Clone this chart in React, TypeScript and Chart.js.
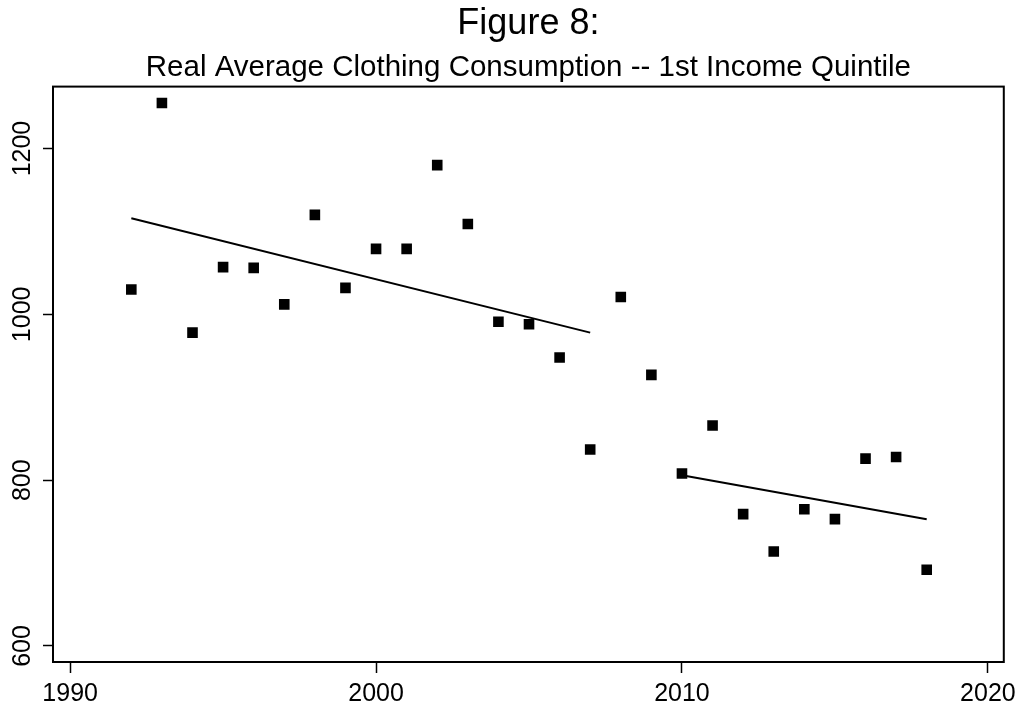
import React, { useEffect, useRef } from "react";
import { Chart, registerables } from "chart.js";

Chart.register(...registerables);

const years = [1992, 1993, 1994, 1995, 1996, 1997, 1998, 1999, 2000, 2001, 2002, 2003, 2004, 2005, 2006, 2007, 2008, 2009, 2010, 2011, 2012, 2013, 2014, 2015, 2016, 2017, 2018];
const consumption = [1030, 1255, 978, 1057, 1056, 1012, 1120, 1032, 1079, 1079, 1180, 1109, 991, 988, 948, 837, 1021, 927, 808, 866, 759, 714, 765, 753, 826, 828, 692];

const fitYears1 = [1992, 2007];
const fitValues1 = [1116, 978];
const fitYears2 = [2010, 2018];
const fitValues2 = [806, 753];

const xTicks = [1990, 2000, 2010, 2020];
const yTicks = [600, 800, 1000, 1200];

const titleText = "Figure 8:";
const subtitleText = "Real Average Clothing Consumption -- 1st Income Quintile";

const FONT = "'Liberation Sans', Arial, Helvetica, sans-serif";

const boxPlugin = {
  id: "boxPlugin",
  afterDraw(chart: any) {
    const { ctx, chartArea } = chart;
    ctx.save();
    ctx.strokeStyle = "#000";
    ctx.lineWidth = 2;
    ctx.strokeRect(chartArea.left, chartArea.top, chartArea.right - chartArea.left, chartArea.bottom - chartArea.top);
    ctx.restore();
  },
};

export default function App() {
  const ref = useRef<HTMLCanvasElement>(null);
  useEffect(() => {
    document.body.style.margin = "0";
    const pts = years.map((x, i) => ({ x, y: consumption[i] }));
    const l1 = fitYears1.map((x, i) => ({ x, y: fitValues1[i] }));
    const l2 = fitYears2.map((x, i) => ({ x, y: fitValues2[i] }));
    const chart = new Chart(ref.current!, {
      type: "scatter",
      data: {
        datasets: [
          { data: pts, pointStyle: "rect", pointRadius: 7.5, pointBackgroundColor: "#000", pointBorderWidth: 0, showLine: false },
          { data: l1, showLine: true, pointRadius: 0, borderColor: "#000", borderWidth: 2 },
          { data: l2, showLine: true, pointRadius: 0, borderColor: "#000", borderWidth: 2 },
        ],
      },
      options: {
        animation: false,
        responsive: false,
        layout: { padding: { right: 18 } },
        plugins: {
          legend: { display: false },
          tooltip: { enabled: false },
          title: { display: true, fullSize: false, text: titleText, color: "#000", font: { family: FONT, size: 36, weight: "normal" }, padding: { top: 2, bottom: 0 } },
          subtitle: { display: true, fullSize: false, text: subtitleText, color: "#000", font: { family: FONT, size: 29.5, weight: "normal" }, padding: { top: 5, bottom: 1 } },
        },
        scales: {
          x: {
            type: "linear",
            min: 1989.44,
            max: 2020.52,
            afterBuildTicks: (s: any) => { s.ticks = xTicks.map((v) => ({ value: v })); },
            afterFit: (s: any) => { s.height = 49; },
            grid: { drawOnChartArea: false, drawTicks: true, tickLength: 11, tickWidth: 1.5, tickColor: "#000" },
            border: { display: false },
            ticks: { color: "#000", font: { family: FONT, size: 25 }, padding: 6, maxRotation: 0, minRotation: 0, callback: (v: any) => String(v) },
          },
          y: {
            type: "linear",
            min: 580.7,
            max: 1274.7,
            afterBuildTicks: (s: any) => { s.ticks = yTicks.map((v) => ({ value: v })); },
            afterFit: (s: any) => { s.width = 53; },
            grid: { drawOnChartArea: false, drawTicks: true, tickLength: 10, tickWidth: 1.5, tickColor: "#000" },
            border: { display: false },
            ticks: { color: "#000", font: { family: FONT, size: 25 }, padding: -8, minRotation: 90, maxRotation: 90, crossAlign: "center", callback: (v: any) => String(v) },
          },
        },
      },
      plugins: [boxPlugin],
    } as any);
    return () => chart.destroy();
  }, []);
  return <canvas ref={ref} width={1022} height={711} style={{ display: "block" }} />;
}
